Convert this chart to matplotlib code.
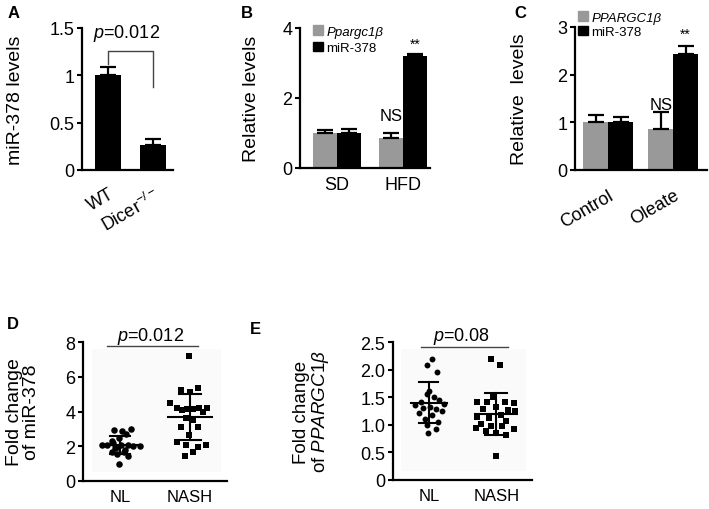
import matplotlib
matplotlib.use("Agg")
import matplotlib.pyplot as plt
from matplotlib.patches import Patch, Rectangle

plt.rcParams["font.family"] = ["Liberation Sans", "DejaVu Sans"]
plt.rcParams["mathtext.fontset"] = "custom"
plt.rcParams["mathtext.rm"] = "Liberation Sans"
plt.rcParams["mathtext.it"] = "Liberation Sans:italic"
plt.rcParams["mathtext.bf"] = "Liberation Sans:bold"

GREY = "#999999"

# panel A: miR-378 in WT vs Dicer knockout
a_groups = ["WT", "Dicer$^{-/-}$"]
a_values = [1.0, 0.26]
a_err = [0.09, 0.07]

# panel B: mouse liver, SD vs HFD
b_groups = ["SD", "HFD"]
b_gene = [1.0, 0.87]
b_gene_err = [0.10, 0.13]
b_mir = [1.0, 3.2]
b_mir_err = [0.12, 0.07]

# panel C: cells, control vs oleate
c_groups = ["Control", "Oleate"]
c_gene = [1.0, 0.86]
c_gene_err = [0.15, 0.36]
c_mir = [1.0, 2.43]
c_mir_err = [0.12, 0.17]

# panel D: fold change of miR-378 (NL circles, NASH squares)
d_nl = [2.95, 3.0, 2.85, 2.7, 2.45, 2.3, 2.2, 2.1, 2.07, 2.05, 2.05,
        2.0, 2.0, 1.95, 1.9, 1.8, 1.68, 1.65, 1.55, 1.45, 0.95]
d_nl_jit = [-0.09, 0.15, 0.03, 0.09, -0.02, -0.12, -0.10, 0.12, -0.19, -0.26, 0.01,
            0.19, 0.28, -0.05, -0.07, 0.07, -0.12, 0.06, -0.04, 0.12, -0.02]
d_nash = [7.2, 5.25, 5.13, 5.38, 4.48, 4.2, 4.1, 4.15, 4.12, 4.18, 4.22, 3.95,
          3.6, 3.5, 3.08, 3.08, 2.66, 2.22, 2.07, 2.07, 1.93, 1.68, 1.42]
d_nash_jit = [-0.01, -0.13, 0.0, 0.11, -0.28, -0.19, -0.12, -0.04, 0.05, 0.13, 0.24, 0.19,
              -0.06, 0.05, -0.13, 0.11, -0.01, -0.19, -0.06, 0.23, 0.12, 0.05, -0.07]
d_mean = [2.08, 3.7]
d_sd = [0.5, 1.33]

# panel E: fold change of PPARGC1B
e_nl = [2.2, 2.08, 1.95, 1.62, 1.55, 1.5, 1.45, 1.42, 1.38, 1.35, 1.32,
        1.3, 1.28, 1.25, 1.22, 1.18, 1.1, 1.05, 1.0, 0.92, 0.85]
e_nl_jit = [0.05, -0.02, 0.12, 0.0, -0.03, 0.08, 0.15, -0.12, 0.22, -0.2, 0.02,
            -0.08, 0.1, 0.2, -0.15, 0.05, -0.05, 0.14, -0.02, 0.11, -0.01]
e_nash = [2.2, 2.08, 1.5, 1.42, 1.42, 1.42, 1.4, 1.32, 1.28, 1.26, 1.25, 1.17,
          1.15, 1.13, 1.07, 1.01, 0.98, 0.97, 0.95, 0.93, 0.89, 0.86, 0.82, 0.44]
e_nash_jit = [-0.08, 0.05, -0.05, -0.28, -0.14, 0.13, 0.26, 0.0, -0.2, 0.18, 0.28, 0.07,
              -0.28, -0.1, 0.15, -0.23, -0.08, 0.08, -0.3, 0.26, -0.15, 0.0, 0.14, 0.0]
e_mean = [1.4, 1.2]
e_sd = [0.37, 0.38]
scatter_groups = ["NL", "NASH"]

W, H = 709, 510
fig = plt.figure(figsize=(W / 100, H / 100), dpi=100)


def px_axes(left, top, right, bottom):
    return fig.add_axes([left / W, 1 - bottom / H, (right - left) / W, (bottom - top) / H])


def style(ax, ylabel, label_x, ylabel_size=14):
    for s in ("top", "right"):
        ax.spines[s].set_visible(False)
    for s in ("left", "bottom"):
        ax.spines[s].set_linewidth(1.6)
    ax.tick_params(axis="y", length=3.5, width=1.5, labelsize=13, pad=2)
    ax.tick_params(axis="x", length=0, labelsize=13, pad=4)
    ax.set_ylabel(ylabel, fontsize=ylabel_size, linespacing=1.0)
    ax.yaxis.set_label_coords(label_x, 0.5)
    ax.yaxis.label.set_va("center")


ekw = dict(elinewidth=1.6, capthick=1.6, ecolor="black")

# ---- A ----
ax = px_axes(82, 29, 173, 171)
xa = range(len(a_groups))
ax.bar(xa, a_values, 0.58, color="black",
       yerr=[[0] * len(a_err), a_err], capsize=6, error_kw=ekw)
ax.set_xlim(-0.58, 1.44)
ax.set_ylim(0, 1.5)
ax.set_yticks([0, 0.5, 1, 1.5], ["0", "0.5", "1", "1.5"])
ax.set_xticks(list(xa), a_groups, rotation=30, ha="right", rotation_mode="anchor")
style(ax, "miR-378 levels", -0.73)
ax.tick_params(axis="x", pad=11)
ax.plot([0, 0, 1, 1], [1.12, 1.26, 1.26, 0.88], color="#444444", lw=1.0)
ax.text(0.42, 1.45, "$\\it{p}$=0.012", ha="center", va="center", fontsize=13)


def grouped(ax, gene, gene_err, mir, mir_err, width):
    x = list(range(len(gene)))
    ax.bar([i - width / 2 for i in x], gene, width, color=GREY,
           yerr=[[0] * len(gene), gene_err], capsize=6, error_kw=ekw)
    ax.bar([i + width / 2 for i in x], mir, width, color="black",
           yerr=[[0] * len(mir), mir_err], capsize=6, error_kw=ekw)
    return x


# ---- B ----
ax = px_axes(300, 29, 430, 169)
xb = grouped(ax, b_gene, b_gene_err, b_mir, b_mir_err, 0.37)
ax.set_xlim(-0.56, 1.41)
ax.set_ylim(0, 4)
ax.set_yticks([0, 2, 4])
ax.set_xticks(xb, b_groups)
style(ax, "Relative levels", -0.37)
ax.tick_params(axis="x", pad=6)
ax.text(1 - 0.185, 1.49, "NS", ha="center", va="center", fontsize=12)
ax.text(1 + 0.185, 3.55, "**", ha="center", va="center", fontsize=10)
leg = ax.legend([Patch(color=GREY), Patch(color="black")], ["Ppargc1β", "miR-378"],
                loc="upper left", bbox_to_anchor=(0.1, 1.02), frameon=False,
                fontsize=9.5, handlelength=0.75, handleheight=0.75,
                handletextpad=0.25, labelspacing=0.3, borderpad=0, borderaxespad=0)
leg.get_texts()[0].set_fontstyle("italic")

# ---- C ----
ax = px_axes(575, 28, 707, 171)
xc = grouped(ax, c_gene, c_gene_err, c_mir, c_mir_err, 0.38)
ax.set_xlim(-0.51, 1.52)
ax.set_ylim(0, 3)
ax.set_yticks([0, 1, 2, 3])
ax.set_xticks(xc, c_groups, rotation=30, ha="right", rotation_mode="anchor")
style(ax, "Relative  levels", -0.42)
ax.tick_params(axis="x", pad=12)
ax.text(1 - 0.19, 1.38, "NS", ha="center", va="center", fontsize=12)
ax.text(1 + 0.19, 2.85, "**", ha="center", va="center", fontsize=10)
leg = ax.legend([Patch(color=GREY), Patch(color="black")], ["PPARGC1β", "miR-378"],
                loc="upper left", bbox_to_anchor=(0.023, 1.11), frameon=False,
                fontsize=9.5, handlelength=0.75, handleheight=0.75,
                handletextpad=0.25, labelspacing=0.15, borderpad=0, borderaxespad=0)
leg.get_texts()[0].set_fontstyle("italic")


def dotplot(ax, nl, nl_jit, nash, nash_jit, means, sds, size):
    ax.add_patch(Rectangle((0.06, 0.065), 0.9, 0.885, transform=ax.transAxes,
                           color="#fafafa", zorder=0, lw=0))
    ax.scatter([j for j in nl_jit], nl, s=size, marker="o", color="black", zorder=3, lw=0)
    ax.scatter([1 + j for j in nash_jit], nash, s=size, marker="s", color="black", zorder=3, lw=0)
    half = [0.27, 0.31]
    cap = [0.14, 0.16]
    for i, (m, sd) in enumerate(zip(means, sds)):
        ax.plot([i - half[i], i + half[i]], [m, m], color="black", lw=1.5, zorder=4)
        ax.plot([i, i], [m - sd, m + sd], color="black", lw=1.5, zorder=4)
        for y in (m - sd, m + sd):
            ax.plot([i - cap[i], i + cap[i]], [y, y], color="black", lw=1.5, zorder=4)
    ax.set_xlim(-0.53, 1.53)
    ax.set_xticks([0, 1], scatter_groups)


# ---- D ----
ax = px_axes(83, 343, 227, 482)
dotplot(ax, d_nl, d_nl_jit, d_nash, d_nash_jit, d_mean, d_sd, 22)
ax.set_ylim(0, 8)
ax.set_yticks([0, 2, 4, 6, 8])
style(ax, "Fold change\nof miR-378", -0.42)
ax.tick_params(axis="x", labelsize=12, pad=6)
ax.plot([-0.19, 1.11], [7.76, 7.76], color="#444444", lw=1.0, clip_on=False)
ax.text(0.43, 8.4, "$\\it{p}$=0.012", ha="center", va="center", fontsize=13)

# ---- E ----
ax = px_axes(393, 343, 532, 481)
dotplot(ax, e_nl, e_nl_jit, e_nash, e_nash_jit, e_mean, e_sd, 18)
ax.set_ylim(0, 2.5)
ax.set_yticks([0, 0.5, 1.0, 1.5, 2.0, 2.5], ["0", "0.5", "1.0", "1.5", "2.0", "2.5"])
style(ax, "Fold change\nof $\\it{PPARGC1\\beta}$", -0.58, ylabel_size=13.5)
ax.tick_params(axis="x", labelsize=12, pad=6)
ax.plot([-0.12, 1.18], [2.41, 2.41], color="#444444", lw=1.0, clip_on=False)
ax.text(0.49, 2.61, "$\\it{p}$=0.08", ha="center", va="center", fontsize=13)

# panel letters
for letter, x, y in [("A", 14, 13), ("B", 247, 13), ("C", 520, 13), ("D", 13, 325), ("E", 255, 329)]:
    fig.text(x / W, 1 - y / H, letter, fontsize=12, fontweight="bold", ha="center", va="center")

fig.savefig("out.png", dpi=100)
